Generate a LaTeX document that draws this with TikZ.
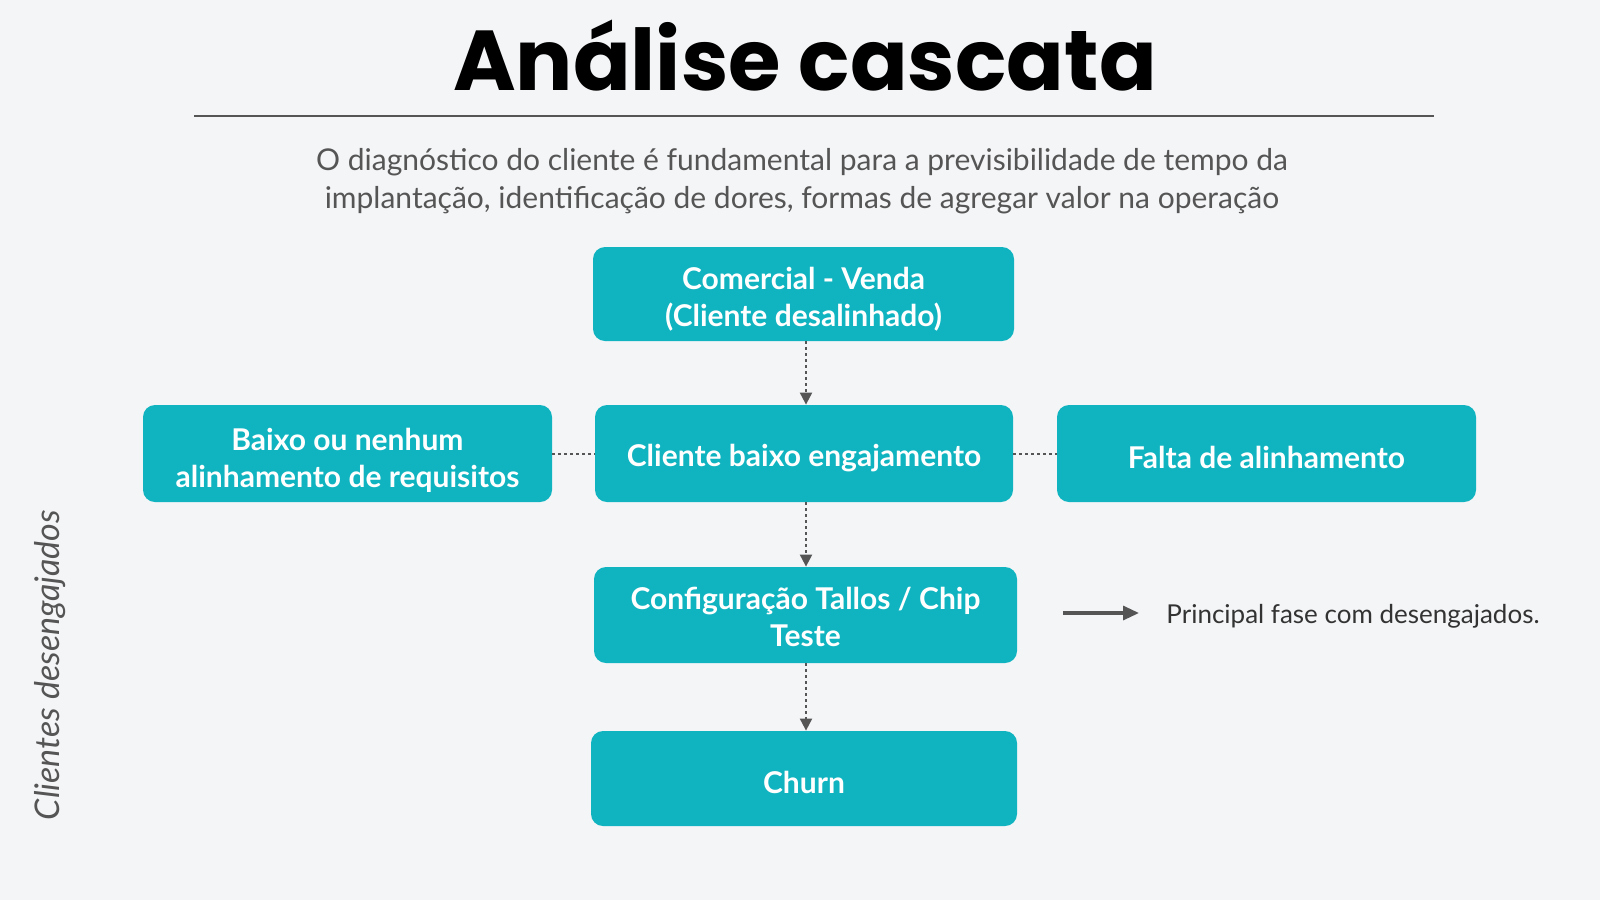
\documentclass[tikz,border=0pt]{standalone}
\usepackage{fontspec}
\setmainfont{Lato}
\newfontfamily\titlefont{Poppins}
\usetikzlibrary{arrows.meta}
\definecolor{bg}{HTML}{F4F5F7}
\definecolor{teal}{HTML}{0FB4C0}
\definecolor{graytxt}{HTML}{555555}
\definecolor{conn}{HTML}{555555}
\newcommand\bxstrut[1]{\rule{0pt}{#1}}
\tikzset{
  box/.style={draw=none, fill=teal, rounded corners=6pt, text=white, font=\fontsize{15}{18.5}\selectfont\bfseries, align=center, inner sep=0pt},
  dotline/.style={draw=conn, line width=1pt, dash pattern=on 1.5pt off 1.5pt},
  arr/.style={dotline, -{Triangle[length=6pt,width=6pt]}},
}
\begin{document}
\begin{tikzpicture}[x=0.5pt,y=-0.5pt]
\useasboundingbox[fill=bg] (0,0) rectangle (1600,900);
\node[font=\titlefont\fontsize{42.5}{46}\selectfont\bfseries, anchor=base] (title) at (805,90) {Análise cascata};
\draw[draw=graytxt, line width=0.8pt] (194,116) coordinate (l1) -- (1434,116) coordinate (l2);
\node[font=\fontsize{15}{19}\selectfont, text=graytxt, align=center] (sub) at (802,181) {O diagnóstico do cliente é fundamental para a previsibilidade de tempo da\\implantação, identificação de dores, formas de agregar valor na operação};

\node[box, minimum width=210.5pt, minimum height=47pt] (com) at (803.5,294) {\bxstrut{16pt}Comercial - Venda\\(Cliente desalinhado)};
\node[box, minimum width=209pt, minimum height=48.5pt] (cli) at (804,453.5) {\bxstrut{15.5pt}Cliente baixo engajamento};
\node[box, minimum width=204.5pt, minimum height=48.5pt] (bai) at (347.5,453.5) {\bxstrut{18pt}Baixo ou nenhum\\alinhamento de requisitos};
\node[box, minimum width=209.5pt, minimum height=48.5pt] (fal) at (1266.5,453.5) {\bxstrut{15pt}Falta de alinhamento};
\node[box, minimum width=211.5pt, minimum height=48pt] (cfg) at (805.5,615) {\bxstrut{13pt}Configuração Tallos / Chip\\Teste};
\node[box, minimum width=213pt, minimum height=47.5pt] (chu) at (804,778.5) {\bxstrut{15pt}Churn};

\draw[arr] (com.south -| 806,0) -- (cli.north -| 806,0);
\draw[arr] (cli.south -| 806,0) -- (cfg.north -| 806,0);
\draw[arr] (cfg.south -| 806,0) -- (chu.north -| 806,0);
\draw[dotline] (bai.east) -- (cli.west);
\draw[dotline] (cli.east) -- (fal.west);

\coordinate (la) at (1063,613);
\coordinate (lb) at (1139,613);
\draw[draw=conn, line width=1.6pt, -{Triangle[length=8pt,width=7pt]}] (la) -- (lb);
\node[anchor=west, font=\fontsize{13}{15}\selectfont, text=black!80, inner sep=0pt] (leg) at (1166,616) {Principal fase com desengajados.};

\node[rotate=90, font=\fontsize{17}{19}\selectfont\itshape, text=graytxt] (side) at (50,665) {Clientes desengajados};
\end{tikzpicture}
\end{document}
